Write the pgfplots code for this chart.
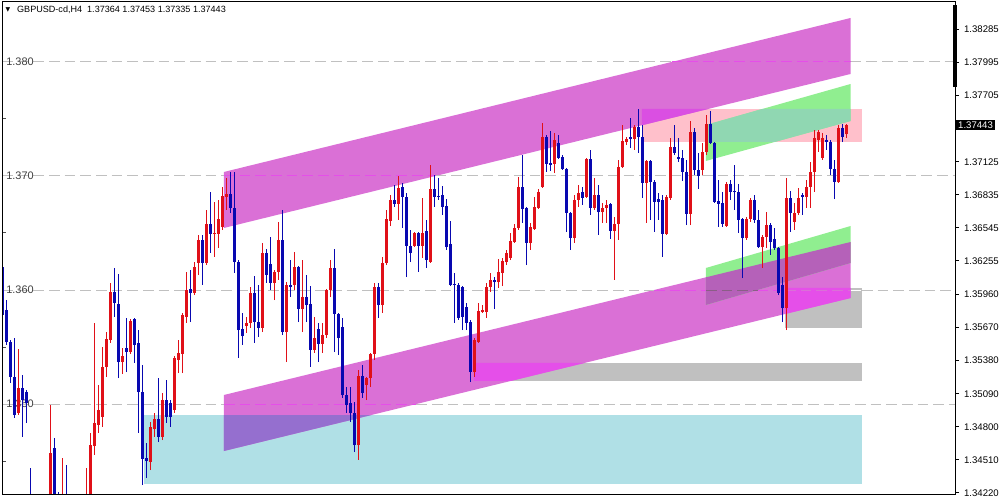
\documentclass[border=0pt]{standalone}
\usepackage{fontspec}
\setmainfont{Liberation Sans}
\newfontfamily\dejavu{DejaVu Sans}
\usepackage{pgfplots}
\usepackage{pgfplotstable}
\pgfplotsset{compat=1.18}
\definecolor{bull}{RGB}{224,16,24}
\definecolor{bear}{RGB}{8,8,176}
\definecolor{orch}{RGB}{218,112,214}
\definecolor{pblue}{RGB}{176,224,230}
\definecolor{silv}{RGB}{192,192,192}
\definecolor{pnk}{RGB}{255,192,203}
\definecolor{lgreen}{RGB}{144,238,144}
\definecolor{ovA}{RGB}{149,111,207}
\definecolor{ovB}{RGB}{229,79,233}
\definecolor{ovC}{RGB}{181,97,185}
\definecolor{ovD}{RGB}{144,215,178}
\definecolor{ovE}{RGB}{218,79,226}
\definecolor{dashdark}{RGB}{138,94,134}
\definecolor{gridc}{RGB}{192,192,192}
\definecolor{lab}{RGB}{64,64,64}

\pgfplotstableread{
i o h l c
0 1.36202 1.36237 1.35755 1.35781
1 1.35825 1.35912 1.35518 1.35544
2 1.35544 1.35562 1.35185 1.35237
3 1.35237 1.35579 1.34878 1.34904
4 1.34922 1.35483 1.34904 1.35141
5 1.35141 1.35254 1.34711 1.35035
6 1.35105 1.35123 1.34834 1.35009
7 1.34158 1.34439 1.33938 1.33982
8 1.33982 1.34070 1.33763 1.33825
9 1.33825 1.33895 1.33719 1.33877
10 1.33877 1.33938 1.33737 1.33807
11 1.33807 1.34026 1.33763 1.33982
12 1.33982 1.34991 1.33938 1.34571
13 1.34614 1.34702 1.34026 1.34114
14 1.34114 1.34228 1.33938 1.34026
15 1.34026 1.34527 1.33982 1.34114
16 1.34114 1.34465 1.33938 1.34026
17 1.34026 1.34114 1.33851 1.33912
18 1.33912 1.34070 1.33851 1.34026
19 1.34026 1.34114 1.33938 1.34088
20 1.34088 1.34158 1.33982 1.34052
21 1.34052 1.34439 1.34000 1.34140
22 1.34140 1.34746 1.34114 1.34640
23 1.34631 1.35711 1.34553 1.34834
24 1.34816 1.35167 1.34746 1.34948
25 1.34887 1.35501 1.34799 1.35325
26 1.35325 1.35631 1.35237 1.35570
27 1.35562 1.36062 1.35536 1.35982
28 1.35982 1.36193 1.35764 1.35886
29 1.35877 1.36141 1.35228 1.35368
30 1.35368 1.35492 1.35263 1.35421
31 1.35492 1.35755 1.35280 1.35456
32 1.35456 1.35746 1.35439 1.35728
33 1.35746 1.35755 1.35360 1.35518
34 1.35536 1.35649 1.34746 1.35105
35 1.35105 1.35342 1.34289 1.34518
36 1.34527 1.34658 1.34351 1.34500
37 1.34491 1.34842 1.34421 1.34799
38 1.34781 1.34922 1.34711 1.34869
39 1.34869 1.35228 1.34666 1.34711
40 1.34711 1.35097 1.34684 1.35035
41 1.35035 1.35211 1.34834 1.34887
42 1.35009 1.35035 1.34799 1.34887
43 1.34948 1.35421 1.34922 1.35404
44 1.35386 1.35562 1.35272 1.35448
45 1.35439 1.35799 1.35272 1.35781
46 1.35764 1.36158 1.35711 1.36000
47 1.36009 1.36176 1.35719 1.35974
48 1.35974 1.36245 1.35956 1.36202
49 1.36237 1.36483 1.36132 1.36439
50 1.36439 1.36483 1.36044 1.36237
51 1.36237 1.36702 1.36219 1.36579
52 1.36579 1.36859 1.36325 1.36492
53 1.36492 1.36772 1.36290 1.36501
54 1.36492 1.36790 1.36369 1.36623
55 1.36553 1.36904 1.36527 1.36824
56 1.36816 1.36983 1.36702 1.36842
57 1.36842 1.37035 1.36676 1.36720
58 1.36720 1.37035 1.36150 1.36245
59 1.36245 1.36263 1.35404 1.35649
60 1.35658 1.35799 1.35518 1.35596
61 1.35684 1.35764 1.35623 1.35711
62 1.35711 1.36027 1.35667 1.35974
63 1.35974 1.36123 1.35536 1.35719
64 1.35719 1.36044 1.35588 1.35667
65 1.35667 1.36413 1.35631 1.36325
66 1.36325 1.36360 1.36062 1.36132
67 1.36228 1.36466 1.36000 1.36062
68 1.36062 1.36176 1.35912 1.36158
69 1.36158 1.36596 1.36088 1.36439
70 1.36439 1.36702 1.35605 1.35631
71 1.35631 1.36070 1.35368 1.36044
72 1.36044 1.36263 1.35938 1.36027
73 1.36044 1.36333 1.36000 1.36202
74 1.36202 1.36210 1.35719 1.35833
75 1.35833 1.36263 1.35631 1.35938
76 1.35938 1.36132 1.35719 1.35868
77 1.35877 1.36035 1.35325 1.35474
78 1.35474 1.35764 1.35448 1.35579
79 1.35658 1.35711 1.35368 1.35527
80 1.35527 1.35711 1.35448 1.35605
81 1.35605 1.36009 1.35579 1.36000
82 1.36000 1.36263 1.35938 1.36193
83 1.36193 1.36360 1.35456 1.35790
84 1.35790 1.35799 1.35430 1.35579
85 1.35676 1.35755 1.35053 1.35079
86 1.35079 1.35149 1.34922 1.34991
87 1.35009 1.35149 1.34842 1.34922
88 1.34922 1.35018 1.34579 1.34640
89 1.34640 1.35298 1.34509 1.35246
90 1.35246 1.35342 1.35053 1.35097
91 1.35167 1.35237 1.35035 1.35228
92 1.35228 1.35448 1.35149 1.35439
93 1.35439 1.36062 1.35386 1.36027
94 1.36027 1.36062 1.35755 1.35868
95 1.35868 1.36290 1.35799 1.36237
96 1.36237 1.36702 1.36219 1.36623
97 1.36605 1.36833 1.36561 1.36790
98 1.36790 1.36921 1.36729 1.36755
99 1.36755 1.37000 1.36614 1.36895
100 1.36904 1.36939 1.36544 1.36816
101 1.36816 1.36851 1.36114 1.36386
102 1.36386 1.36527 1.36245 1.36325
103 1.36386 1.36509 1.36377 1.36501
104 1.36501 1.36509 1.36158 1.36386
105 1.36386 1.36807 1.36281 1.36501
106 1.36518 1.36614 1.36193 1.36263
107 1.36245 1.37097 1.36237 1.36886
108 1.36886 1.37009 1.36729 1.36816
109 1.36825 1.36983 1.36790 1.36816
110 1.36833 1.36912 1.36658 1.36729
111 1.36737 1.36798 1.36351 1.36377
112 1.36404 1.36605 1.36035 1.36044
113 1.36053 1.36150 1.35711 1.36044
114 1.36044 1.36062 1.35737 1.35755
115 1.36027 1.36035 1.35649 1.35764
116 1.35851 1.35886 1.35649 1.35711
117 1.35719 1.35737 1.35193 1.35280
118 1.35280 1.35579 1.35237 1.35562
119 1.35544 1.35886 1.35536 1.35816
120 1.35807 1.35868 1.35799 1.35825
121 1.35807 1.36062 1.35755 1.36027
122 1.36027 1.36150 1.35982 1.36088
123 1.36088 1.36114 1.35833 1.36070
124 1.36070 1.36272 1.36018 1.36158
125 1.36150 1.36281 1.36035 1.36254
126 1.36245 1.36351 1.36219 1.36325
127 1.36281 1.36501 1.36263 1.36430
128 1.36421 1.36579 1.36413 1.36544
129 1.36544 1.36991 1.36527 1.36904
130 1.36904 1.37184 1.36588 1.36711
131 1.36720 1.36729 1.36219 1.36413
132 1.36413 1.36588 1.36351 1.36553
133 1.36535 1.36816 1.36527 1.36729
134 1.36720 1.36886 1.36711 1.36860
135 1.36904 1.37465 1.36895 1.37342
136 1.37342 1.37360 1.37035 1.37105
137 1.37114 1.37395 1.37044 1.37097
138 1.37105 1.37377 1.37026 1.37316
139 1.37290 1.37360 1.37150 1.37158
140 1.37167 1.37184 1.37053 1.37061
141 1.37061 1.37070 1.36509 1.36676
142 1.36676 1.36684 1.36351 1.36456
143 1.36456 1.36833 1.36413 1.36790
144 1.36790 1.36921 1.36729 1.36851
145 1.36860 1.36904 1.36746 1.36807
146 1.36816 1.37158 1.36807 1.37149
147 1.37149 1.37228 1.36658 1.36720
148 1.36720 1.36983 1.36702 1.36833
149 1.36833 1.36921 1.36483 1.36684
150 1.36684 1.36764 1.36588 1.36720
151 1.36720 1.36790 1.36588 1.36746
152 1.36755 1.36764 1.36448 1.36518
153 1.36518 1.36640 1.36088 1.36579
154 1.36579 1.37141 1.36439 1.37079
155 1.37079 1.37448 1.37070 1.37307
156 1.37298 1.37342 1.37272 1.37325
157 1.37342 1.37509 1.37246 1.37325
158 1.37325 1.37448 1.37228 1.37430
159 1.37430 1.37588 1.37202 1.37342
160 1.37342 1.37448 1.36807 1.36939
161 1.36939 1.37141 1.36588 1.37132
162 1.37132 1.37141 1.36614 1.36947
163 1.36947 1.36965 1.36509 1.36772
164 1.36798 1.36851 1.36614 1.36772
165 1.36790 1.36833 1.36290 1.36492
166 1.36492 1.36833 1.36483 1.36816
167 1.36807 1.37334 1.36790 1.37255
168 1.37255 1.37448 1.37184 1.37202
169 1.37167 1.37334 1.37123 1.37149
170 1.37158 1.37228 1.36956 1.37035
171 1.37035 1.37141 1.36570 1.36667
172 1.36667 1.37483 1.36570 1.37386
173 1.37386 1.37421 1.37009 1.37053
174 1.37053 1.37202 1.36886 1.37000
175 1.37053 1.37290 1.37009 1.37211
176 1.37211 1.37535 1.37184 1.37456
177 1.37456 1.37570 1.37281 1.37290
178 1.37290 1.37298 1.36764 1.36772
179 1.36781 1.36965 1.36553 1.36755
180 1.36764 1.36860 1.36553 1.36579
181 1.36561 1.36947 1.36553 1.36930
182 1.36930 1.36965 1.36790 1.36860
183 1.36869 1.37097 1.36702 1.36860
184 1.36860 1.36930 1.36501 1.36614
185 1.36623 1.36632 1.36105 1.36456
186 1.36456 1.36640 1.36439 1.36623
187 1.36623 1.36807 1.36597 1.36790
188 1.36790 1.36833 1.36588 1.36614
189 1.36614 1.36702 1.36369 1.36377
190 1.36377 1.36483 1.36193 1.36466
191 1.36466 1.36684 1.36369 1.36570
192 1.36570 1.36588 1.36307 1.36421
193 1.36448 1.36544 1.36351 1.36369
194 1.36369 1.36377 1.35956 1.35974
195 1.36044 1.36114 1.35719 1.35842
196 1.35842 1.36983 1.35649 1.36807
197 1.36807 1.36869 1.36509 1.36676
198 1.36597 1.36764 1.36527 1.36676
199 1.36676 1.36895 1.36658 1.36807
200 1.36833 1.36851 1.36658 1.36816
201 1.36816 1.36965 1.36720 1.36904
202 1.36904 1.37123 1.36720 1.37035
203 1.37035 1.37404 1.36860 1.37334
204 1.37316 1.37404 1.37211 1.37386
205 1.37158 1.37377 1.37141 1.37334
206 1.37316 1.37360 1.37228 1.37298
207 1.37298 1.37316 1.37009 1.37061
208 1.37061 1.37141 1.36798 1.36947
209 1.36947 1.37448 1.36939 1.37421
210 1.37421 1.37456 1.37298 1.37342
211 1.37364 1.37453 1.37335 1.37443
}\candles

\begin{document}
\begin{tikzpicture}
% left-edge small ticks
\begin{axis}[
  at={(1.5pt,3.75pt)}, anchor=south west,
  width=714.75pt, height=369.75pt, scale only axis,
  xmin=-0.175, xmax=238.075, ymin=1.34202, ymax=1.38526,
  xtick=\empty, ytick={1.345,1.355,1.365,1.375},
  yticklabels={}, ytick pos=left, tick align=inside,
  major tick length=3pt, tick style={black!70, line width=0.75pt},
  axis line style={draw=none},
]
\end{axis}
\begin{axis}[
  at={(1.5pt,3.75pt)}, anchor=south west,
  width=714.75pt, height=369.75pt, scale only axis,
  xmin=-0.175, xmax=238.075, ymin=1.34202, ymax=1.38526,
  xtick=\empty,
  ytick={1.38285,1.37995,1.37705,1.37125,1.36835,1.36545,1.36255,1.35960,1.35670,1.35380,1.35090,1.34800,1.34510,1.34220},
  yticklabels={1.38285,1.37995,1.37705,1.37125,1.36835,1.36545,1.36255,1.35960,1.35670,1.35380,1.35090,1.34800,1.34510,1.34220},
  ytick pos=right, yticklabel pos=right,
  tick align=outside, major tick length=3pt,
  tick style={black, line width=0.75pt},
  axis line style={black, line width=0.75pt},
  yticklabel style={font=\fontsize{7.2}{8}\selectfont, inner sep=0pt, anchor=west, xshift=3.6pt},
  axis on top,
]
% zones
\addplot[fill=pblue, draw=none, forget plot] coordinates {(35.3,1.349036) (214.8,1.349036) (214.8,1.342984) (35.3,1.342984)} -- cycle;
\addplot[fill=silv, draw=none, forget plot] coordinates {(117.8,1.353598) (214.8,1.353598) (214.8,1.352019) (117.8,1.352019)} -- cycle;
\addplot[fill=silv, draw=none, forget plot] coordinates {(195.6,1.360177) (214.8,1.360177) (214.8,1.356668) (195.6,1.356668)} -- cycle;
\addplot[fill=pnk, draw=none, forget plot] coordinates {(159.8,1.375879) (214.8,1.375879) (214.8,1.372984) (159.8,1.372984)} -- cycle;
\addplot[fill=orch, draw=none, forget plot] coordinates {(55.3,1.370352) (212,1.383861) (212,1.378949) (55.3,1.365440)} -- cycle;
\addplot[fill=orch, draw=none, forget plot] coordinates {(55.3,1.350791) (212,1.364212) (212,1.359300) (55.3,1.345879)} -- cycle;
\addplot[fill=lgreen, draw=none, forget plot] coordinates {(175.8,1.374475) (212,1.378072) (212,1.374826) (175.8,1.371317)} -- cycle;
\addplot[fill=lgreen, draw=none, forget plot] coordinates {(175.8,1.361931) (212,1.365615) (212,1.362370) (175.8,1.358686)} -- cycle;
% overlaps
\addplot[fill=ovA, draw=none, forget plot] coordinates {(55.3,1.349036) (92.16,1.349036) (55.3,1.345879)} -- cycle;
\addplot[fill=ovB, draw=none, forget plot] coordinates {(117.8,1.353598) (145.42,1.353598) (126.99,1.352019) (117.8,1.352019)} -- cycle;
\addplot[fill=ovB, draw=none, forget plot] coordinates {(195.6,1.360177) (212,1.360177) (212,1.359300) (195.6,1.357896)} -- cycle;
\addplot[fill=ovC, draw=none, forget plot] coordinates {(175.8,1.361112) (212,1.364212) (212,1.362370) (175.8,1.358686)} -- cycle;
\addplot[fill=ovD, draw=none, forget plot] coordinates {(175.8,1.374475) (189.93,1.375879) (212,1.375879) (212,1.374826) (193.0,1.372984) (175.8,1.372984)} -- cycle;
\addplot[fill=ovE, draw=none, forget plot] coordinates {(159.8,1.375879) (176.39,1.375879) (159.8,1.374449)} -- cycle;
% dashed level lines
\addplot[gridc, line width=0.75pt, dash pattern=on 8pt off 3.75pt, forget plot] coordinates {(-0.175,1.38) (167.2,1.38)};
\addplot[ovB, line width=0.75pt, dash pattern=on 8pt off 3.75pt, forget plot] coordinates {(167.2,1.38) (212,1.38)};
\addplot[gridc, line width=0.75pt, dash pattern=on 8pt off 3.75pt, forget plot] coordinates {(212,1.38) (238.075,1.38)};
\addplot[gridc, line width=0.75pt, dash pattern=on 8pt off 3.75pt, forget plot] coordinates {(-0.175,1.37) (55.3,1.37)};
\addplot[ovB, line width=0.75pt, dash pattern=on 8pt off 3.75pt, forget plot] coordinates {(55.3,1.37) (108.2,1.37)};
\addplot[gridc, line width=0.75pt, dash pattern=on 8pt off 3.75pt, forget plot] coordinates {(108.2,1.37) (238.075,1.37)};
\addplot[gridc, line width=0.75pt, dash pattern=on 8pt off 3.75pt, forget plot] coordinates {(-0.175,1.36) (162.8,1.36)};
\addplot[ovB, line width=0.75pt, dash pattern=on 8pt off 3.75pt, forget plot] coordinates {(162.8,1.36) (175.8,1.36)};
\addplot[dashdark, line width=0.75pt, dash pattern=on 8pt off 3.75pt, forget plot] coordinates {(175.8,1.36) (188.7,1.36)};
\addplot[ovB, line width=0.75pt, dash pattern=on 8pt off 3.75pt, forget plot] coordinates {(188.7,1.36) (195.6,1.36)};
\addplot[orch, line width=0.75pt, dash pattern=on 8pt off 3.75pt, forget plot] coordinates {(195.6,1.36) (212,1.36)};
\addplot[white, line width=0.75pt, dash pattern=on 8pt off 3.75pt, forget plot] coordinates {(212,1.36) (214.8,1.36)};
\addplot[gridc, line width=0.75pt, dash pattern=on 8pt off 3.75pt, forget plot] coordinates {(214.8,1.36) (238.075,1.36)};
\addplot[gridc, line width=0.75pt, dash pattern=on 8pt off 3.75pt, forget plot] coordinates {(-0.175,1.35) (55.3,1.35)};
\addplot[ovB, line width=0.75pt, dash pattern=on 8pt off 3.75pt, forget plot] coordinates {(55.3,1.35) (103.4,1.35)};
\addplot[gridc, line width=0.75pt, dash pattern=on 8pt off 3.75pt, forget plot] coordinates {(103.4,1.35) (238.075,1.35)};
\node[anchor=west, inner sep=0pt, text=lab, font=\fontsize{8.2}{9}\selectfont] at (axis cs:0.85,1.380) {1.380};
\node[anchor=west, inner sep=0pt, text=lab, font=\fontsize{8.2}{9}\selectfont] at (axis cs:0.85,1.370) {1.370};
\node[anchor=west, inner sep=0pt, text=lab, font=\fontsize{8.2}{9}\selectfont] at (axis cs:0.85,1.360) {1.360};
\node[anchor=west, inner sep=0pt, text=lab, font=\fontsize{8.2}{9}\selectfont] at (axis cs:0.85,1.350) {1.350};
% candles: wicks (high-low)
\addplot[draw=none, mark=none, forget plot,
  restrict expr to domain={\thisrow{c}-\thisrow{o}}{0:1},
  error bars/.cd, y dir=plus, y explicit, error mark=none,
  error bar style={draw=bull, line width=0.75pt}]
  table[x=i, y=l, y error plus expr={\thisrow{h}-\thisrow{l}}] {\candles};
\addplot[draw=none, mark=none, forget plot,
  restrict expr to domain={\thisrow{c}-\thisrow{o}}{-1:-0.0000001},
  error bars/.cd, y dir=plus, y explicit, error mark=none,
  error bar style={draw=bear, line width=0.75pt}]
  table[x=i, y=l, y error plus expr={\thisrow{h}-\thisrow{l}}] {\candles};
% candles: bodies (open-close)
\addplot[draw=none, mark=none, forget plot,
  restrict expr to domain={\thisrow{c}-\thisrow{o}}{0:1},
  error bars/.cd, y dir=plus, y explicit, error mark=none,
  error bar style={draw=bull, line width=2.25pt}]
  table[x=i, y=o, y error plus expr={\thisrow{c}-\thisrow{o}}] {\candles};
\addplot[draw=none, mark=none, forget plot,
  restrict expr to domain={\thisrow{c}-\thisrow{o}}{-1:-0.0000001},
  error bars/.cd, y dir=plus, y explicit, error mark=none,
  error bar style={draw=bear, line width=2.25pt}]
  table[x=i, y=c, y error plus expr={\thisrow{o}-\thisrow{c}}] {\candles};
% title
\node[inner sep=0pt, font=\dejavu\fontsize{4.5}{5}\selectfont] at (axis cs:1.28,1.38460) {▼};
\node[anchor=west, inner sep=0pt, font=\fontsize{6.8}{8}\selectfont] at (axis cs:3.55,1.38462) {GBPUSD-cd,H4\ \ 1.37364 1.37453 1.37335 1.37443};
\coordinate (cp) at (axis cs:238.075,1.37443);
\end{axis}
\node[anchor=west, fill=black, text=white, inner xsep=1.6pt, inner ysep=0pt, minimum height=7.5pt, font=\fontsize{7.2}{8}\selectfont, xshift=0.6pt] at (cp) {1.37443};
\fill[black] (715.1pt,309.75pt) rectangle (717.4pt,371.25pt);
\pgfresetboundingbox
\path (0,0) rectangle (750pt,375pt);
\end{tikzpicture}
\end{document}
